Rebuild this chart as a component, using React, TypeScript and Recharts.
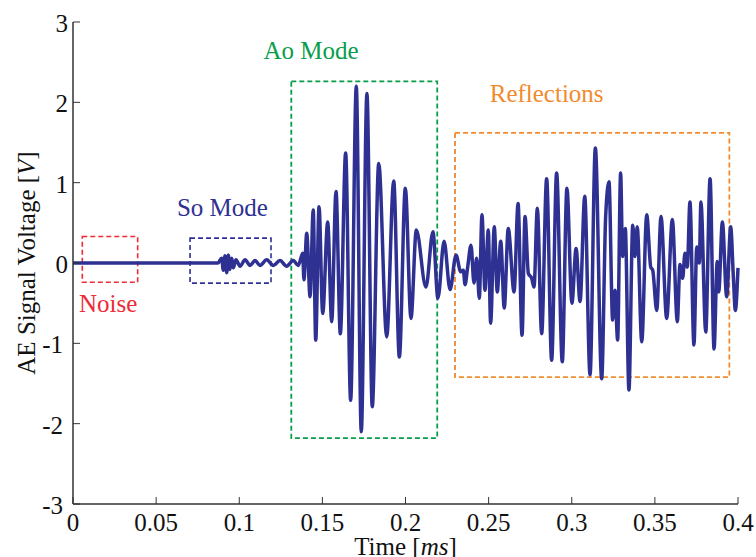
import {
  LineChart,
  Line,
  XAxis,
  YAxis,
  ReferenceArea,
  ReferenceDot,
} from 'recharts';

// AE waveform samples: time in ms, voltage in V
const timeMs = [
  0, 0.0872, 0.0894, 0.0904, 0.0914, 0.0925, 0.0934, 0.0944, 0.0955, 0.0964,
  0.098, 0.1005, 0.1035, 0.1065, 0.1095, 0.1125, 0.1165, 0.1205, 0.1245, 0.1285,
  0.1325, 0.1355, 0.1382, 0.1389, 0.1406, 0.1426, 0.1445, 0.146, 0.148, 0.1502,
  0.1532, 0.1556, 0.1582, 0.1608, 0.164, 0.167, 0.1704, 0.1734, 0.1768, 0.18,
  0.1839, 0.1887, 0.1929, 0.1963, 0.1999, 0.2033, 0.2065, 0.2123, 0.2165, 0.2195,
  0.2232, 0.2268, 0.2304, 0.2332, 0.2348, 0.2358, 0.2374, 0.2394, 0.2412, 0.2428,
  0.2444, 0.246, 0.2478, 0.2498, 0.2512, 0.2534, 0.2552, 0.2573, 0.2594, 0.2618,
  0.2653, 0.2677, 0.2701, 0.2719, 0.2739, 0.2759, 0.2773, 0.2793, 0.2819, 0.2849,
  0.2879, 0.2909, 0.2943, 0.2971, 0.3001, 0.3026, 0.305, 0.3078, 0.311, 0.3142,
  0.318, 0.3204, 0.3224, 0.3246, 0.326, 0.3276, 0.3294, 0.3306, 0.3322, 0.3344,
  0.3367, 0.338, 0.3394, 0.3421, 0.3451, 0.3475, 0.3487, 0.3511, 0.3537, 0.3571,
  0.3605, 0.3635, 0.3651, 0.3667, 0.3681, 0.3695, 0.3711, 0.3735, 0.3752, 0.3767,
  0.3777, 0.3806, 0.3832, 0.3856, 0.3875, 0.3884, 0.3906, 0.3932, 0.3956, 0.3972,
  0.3984, 0.4,
];

const voltage = [
  0, 0, 0.06, -0.09, 0.09, -0.12, 0.1, -0.08, 0.06, -0.06,
  0.04, -0.04, 0.04, -0.03, 0.03, -0.03, 0.04, -0.03, 0.03, -0.04,
  0.03, -0.03, 0.12, -0.21, 0.37, -0.42, 0.66, -0.96, 0.7, -0.63,
  0.51, -0.73, 0.89, -0.88, 1.37, -1.71, 2.2, -2.1, 2.11, -1.79,
  1.24, -0.92, 1.02, -1.17, 0.93, -0.69, 0.41, -0.3, 0.39, -0.44,
  0.27, -0.33, 0.1, -0.11, -0.09, -0.27, -0.05, 0.22, -0.25, 0.06,
  -0.44, 0.6, -0.34, 0.41, -0.75, 0.45, -0.36, 0.27, -0.56, 0.43,
  -0.36, 0.74, -0.9, 0.58, -0.13, -0.19, -0.3, 0.68, -0.88, 1.05,
  -1.21, 1.12, -1.23, 0.93, -0.5, 0.18, -0.48, 0.83, -1.39, 1.43,
  -1.44, 0.58, 1.01, -0.71, -0.34, -0.96, 1.12, 0.08, 0.43, -1.58,
  0.47, 0.08, 0.45, -0.98, 0.6, -0.05, -0.09, -0.59, 0.58, -0.69,
  0.54, -0.73, -0.02, -0.19, 0.12, -0.05, 0.76, -1.02, 0.2, 0,
  0.76, -0.86, 1.05, -1.07, 0.02, -0.36, 0.51, -0.42, 0.45, -0.17,
  -0.59, -0.06,
];

const xTicks = [0, 0.05, 0.1, 0.15, 0.2, 0.25, 0.3, 0.35, 0.4];
const yTicks = [-3, -2, -1, 0, 1, 2, 3];

const rows = timeMs.map((t, i) => ({ t, v: voltage[i] }));

const FONT = '"Liberation Serif", "Times New Roman", "DejaVu Serif", serif';
const AXIS = '#333333';
const WAVE = '#2e3192';
const GREEN = '#0a9d4c';
const ORANGE = '#f28a2e';
const RED = '#ee2b36';
const TICK_LEN = 7;

function BottomTick(props: any) {
  const { x, y, payload } = props;
  return (
    <g>
      <line x1={x} y1={y} x2={x} y2={y - TICK_LEN} stroke={AXIS} strokeWidth={1} />
      <text x={x} y={y + 27} textAnchor="middle" style={{ fontFamily: FONT }} fontSize={25} fill="#111">
        {String(payload.value)}
      </text>
    </g>
  );
}

function TopTick(props: any) {
  const { x, y } = props;
  return <line x1={x} y1={y} x2={x} y2={y + TICK_LEN} stroke={AXIS} strokeWidth={1} />;
}

function LeftTick(props: any) {
  const { x, y, payload } = props;
  const shift = payload.value < 0 ? 10 : 5;
  return (
    <g>
      <line x1={x} y1={y} x2={x + TICK_LEN} y2={y} stroke={AXIS} strokeWidth={1} />
      <text x={x - shift} y={y + 10} textAnchor="end" style={{ fontFamily: FONT }} fontSize={25} fill="#111">
        {String(payload.value)}
      </text>
    </g>
  );
}

function RightTick(props: any) {
  const { x, y } = props;
  return <line x1={x} y1={y} x2={x - TICK_LEN} y2={y} stroke={AXIS} strokeWidth={1} />;
}

function TimeLabel(props: any) {
  const vb = props.viewBox;
  return (
    <text x={vb.x + vb.width / 2} y={vb.y + 51} textAnchor="middle" style={{ fontFamily: FONT }} fontSize={25} fill="#111">
      Time [<tspan fontStyle="italic">ms</tspan>]
    </text>
  );
}

function VoltageLabel(props: any) {
  const vb = props.viewBox;
  const cx = 35;
  const cy = vb.y + vb.height / 2;
  return (
    <text
      x={cx}
      y={cy}
      transform={`rotate(-90, ${cx}, ${cy})`}
      textAnchor="middle"
      style={{ fontFamily: FONT }}
      fontSize={25}
      fill="#111"
    >
      AE Signal Voltage [<tspan fontStyle="italic">V</tspan>]
    </text>
  );
}

function note(text: string, color: string) {
  return {
    value: text,
    position: 'center' as const,
    fill: color,
    fontSize: 25,
    style: { fontFamily: FONT },
  };
}

export default function App() {
  return (
    <div style={{ position: 'absolute', left: 0, top: 0, background: '#fff', fontFamily: FONT }}>
      <LineChart
        width={756}
        height={557}
        data={rows}
        margin={{ top: 22, right: 18, bottom: 0, left: 0 }}
        style={{ fontFamily: FONT }}
      >
        <XAxis
          dataKey="t"
          type="number"
          domain={[0, 0.4]}
          ticks={xTicks}
          height={53}
          tickSize={0}
          tickMargin={0}
          tick={<BottomTick />}
          axisLine={{ stroke: AXIS, strokeWidth: 1.5 }}
          tickLine={false}
          label={{ content: <TimeLabel /> }}
        />
        <XAxis
          xAxisId="top"
          dataKey="t"
          type="number"
          orientation="top"
          domain={[0, 0.4]}
          ticks={xTicks}
          height={0}
          tickSize={0}
          tickMargin={0}
          tick={<TopTick />}
          axisLine={{ stroke: AXIS, strokeWidth: 1.5 }}
          tickLine={false}
        />
        <YAxis
          type="number"
          domain={[-3, 3]}
          ticks={yTicks}
          width={73}
          tickSize={0}
          tickMargin={0}
          tick={<LeftTick />}
          axisLine={{ stroke: AXIS, strokeWidth: 1.5 }}
          tickLine={false}
          label={{ content: <VoltageLabel /> }}
        />
        <YAxis
          yAxisId="right"
          orientation="right"
          type="number"
          domain={[-3, 3]}
          ticks={yTicks}
          width={0}
          tickSize={0}
          tickMargin={0}
          tick={<RightTick />}
          axisLine={{ stroke: AXIS, strokeWidth: 1.5 }}
          tickLine={false}
        />

        {/* dashed regions: noise, S0, A0, reflections */}
        <ReferenceArea x1={0.0056} x2={0.0389} y1={-0.24} y2={0.33} fill="none" stroke={RED} strokeDasharray="5 3" strokeWidth={1.6} ifOverflow="visible" />
        <ReferenceArea x1={0.0704} x2={0.1191} y1={-0.25} y2={0.31} fill="none" stroke={WAVE} strokeDasharray="5 3" strokeWidth={1.6} ifOverflow="visible" />
        <ReferenceArea x1={0.1313} x2={0.2191} y1={-2.18} y2={2.26} fill="none" stroke={GREEN} strokeDasharray="5 3" strokeWidth={1.8} ifOverflow="visible" />
        <ReferenceArea x1={0.2298} x2={0.3948} y1={-1.42} y2={1.62} fill="none" stroke={ORANGE} strokeDasharray="5 3" strokeWidth={1.8} ifOverflow="visible" />

        <Line
          dataKey="v"
          type="monotone"
          stroke={WAVE}
          strokeWidth={3.5}
          dot={false}
          activeDot={false}
          isAnimationActive={false}
        />

        <ReferenceDot x={0.1432} y={2.65} r={0} fill="none" stroke="none" ifOverflow="visible" label={note('Ao Mode', GREEN)} />
        <ReferenceDot x={0.2849} y={2.12} r={0} fill="none" stroke="none" ifOverflow="visible" label={note('Reflections', ORANGE)} />
        <ReferenceDot x={0.0899} y={0.7} r={0} fill="none" stroke="none" ifOverflow="visible" label={note('So Mode', WAVE)} />
        <ReferenceDot x={0.0211} y={-0.5} r={0} fill="none" stroke="none" ifOverflow="visible" label={note('Noise', RED)} />
      </LineChart>
    </div>
  );
}
